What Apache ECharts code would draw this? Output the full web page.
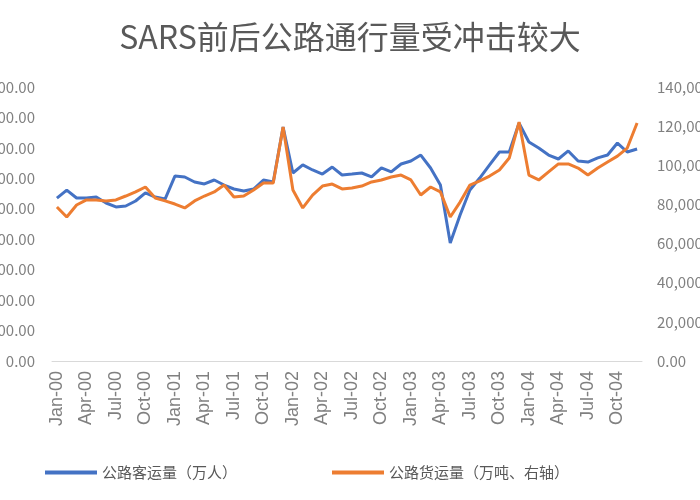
<!DOCTYPE html>
<html>
<head>
<meta charset="utf-8">
<script src="https://cdn.jsdelivr.net/npm/echarts@6/dist/echarts.min.js"></script>
<style>html,body{margin:0;padding:0;background:#fff;}#c{width:700px;height:500px;}</style>
</head>
<body>
<div id="c"></div>
<script>
const months = ['Jan','Feb','Mar','Apr','May','Jun','Jul','Aug','Sep','Oct','Nov','Dec'];
const years = ['00','01','02','03','04'];
const categories = [];
years.forEach(y => months.forEach(m => categories.push(m + '-' + y)));

const passenger = [
  107000,112300,107100,107100,107700,103800,101200,101800,105100,110400,107700,106400,
  121500,120900,117600,116300,118900,115600,113000,111700,113000,118900,117600,153700,
  123500,128800,125500,122800,127400,122200,122800,123500,120900,126800,124200,129400,
  131400,135300,126800,115600,77500,95900,112300,120200,128800,137300,137300,156300,
  143900,139900,135300,132700,138000,131400,130700,133400,135300,143200,137300,139300
];
const freight = [
  78700,73600,79700,82300,82300,81800,82300,84300,86400,88900,83300,81800,
  80200,78200,81800,84300,86400,89900,83800,84300,87400,90900,90900,119600,
  87400,78200,84800,89400,90400,87900,88400,89400,91500,92500,94000,95000,
  92500,84800,88900,86400,73600,81200,89900,92000,94500,97600,103700,122100,
  95000,92500,96600,100700,100700,98600,95000,98600,101700,104700,108800,121600
];
const seriesNames = ['公路客运量（万人）', '公路货运量（万吨、右轴）'];
const titleText = 'SARS前后公路通行量受冲击较大';

const fmt = v => v.toLocaleString('en-US', {minimumFractionDigits: 2, maximumFractionDigits: 2});
const font = "'Noto Sans CJK SC', 'Noto Sans', sans-serif";
const gray = '#808080';

const chart = echarts.init(document.getElementById('c'), null, {renderer: 'canvas'});
chart.setOption({
  backgroundColor: '#ffffff',
  animation: false,
  title: {
    text: titleText, left: 'center', top: 16,
    textStyle: {fontFamily: font, fontSize: 32, fontWeight: 'normal', color: '#595959'}
  },
  legend: {
    top: 460, left: 40, itemWidth: 52, itemHeight: 4, icon: 'rect', itemGap: 95,
    textStyle: {fontFamily: font, fontSize: 15, color: '#595959'},
    data: seriesNames
  },
  grid: {left: 52, right: 58, top: 87, bottom: 139, containLabel: false, outerBoundsMode: 'none'},
  xAxis: {
    type: 'category', data: categories, boundaryGap: true,
    axisLine: {lineStyle: {color: '#d9d9d9'}},
    axisTick: {interval: 2, length: 5, lineStyle: {color: '#d9d9d9'}},
    axisLabel: {interval: 2, rotate: 90, fontFamily: "'Liberation Sans', Arial, sans-serif", fontSize: 18, color: gray, margin: 10}
  },
  yAxis: [
    {type: 'value', min: 0, max: 180000, interval: 20000,
     axisLine: {show: false}, axisTick: {show: false}, splitLine: {show: false},
     axisLabel: {formatter: fmt, fontFamily: font, fontSize: 15, color: gray, margin: 17}},
    {type: 'value', min: 0, max: 140000, interval: 20000, position: 'right',
     axisLine: {show: false}, axisTick: {show: false}, splitLine: {show: false},
     axisLabel: {formatter: fmt, fontFamily: font, fontSize: 15, color: gray, margin: 15}}
  ],
  series: [
    {name: seriesNames[0], type: 'line', data: passenger, yAxisIndex: 0, symbol: 'none',
     lineStyle: {width: 3, color: '#4472C4'}, itemStyle: {color: '#4472C4'}},
    {name: seriesNames[1], type: 'line', data: freight, yAxisIndex: 1, symbol: 'none',
     lineStyle: {width: 3, color: '#ED7D31'}, itemStyle: {color: '#ED7D31'}}
  ]
});
</script>
</body>
</html>
